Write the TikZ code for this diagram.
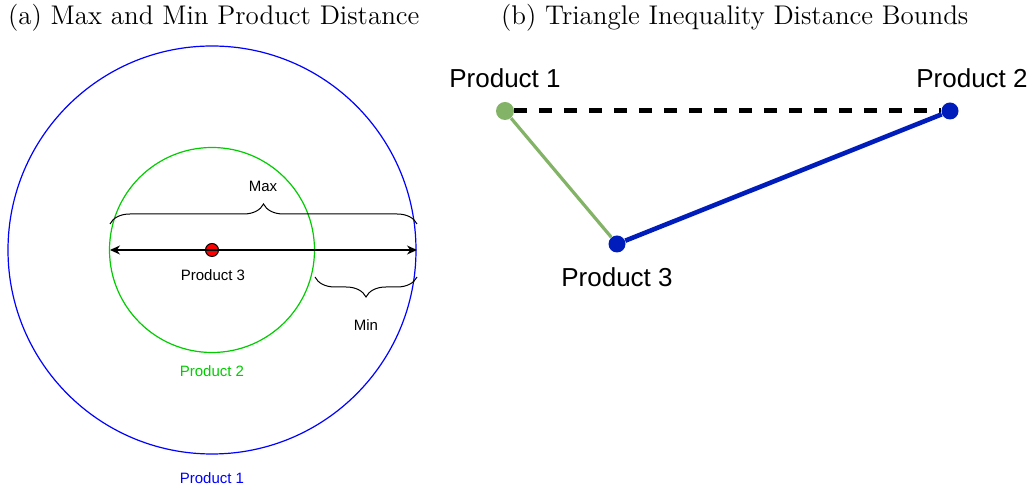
\documentclass[tikz,border=0pt]{standalone}
\usepackage{fontspec}
\newfontfamily\arialfont{Liberation Sans}
\usetikzlibrary{arrows.meta,decorations.pathreplacing}

\definecolor{drawblue}{HTML}{001DBC}
\definecolor{drawgreen}{HTML}{82B366}
\definecolor{ringgreen}{HTML}{00CC00}

\tikzset{
  smalllabel/.style={font=\arialfont\fontsize{7.5}{9}\selectfont},
  biglabel/.style={font=\arialfont\fontsize{13}{15}\selectfont},
  subtitle/.style={anchor=west,font=\fontsize{13.5}{16}\selectfont},
  dot/.style={circle,inner sep=0pt,minimum size=8.5pt},
  dimarrow/.style={-{Stealth[length=5pt,width=4.5pt]},line width=0.6pt},
  bracket/.style={decorate,decoration={brace,amplitude=5pt},line width=0.5pt}
}

\begin{document}
\begin{tikzpicture}[x=0.5pt,y=-0.5pt]
\useasboundingbox (0,0) rectangle (1035,490);

% titles
\node[subtitle] (tita) at (1,18) {(a) Max and Min Product Distance};
\node[subtitle] (titb) at (494,18) {(b) Triangle Inequality Distance Bounds};

% (a) rings round product 3
\node[dot,minimum size=6.5pt,draw,fill=red,line width=0.5pt] (cen) at (212,250) {};
\draw[blue,line width=0.6pt] (cen) circle (204);
\draw[ringgreen,line width=0.6pt] (cen) circle (102.5);
\node[smalllabel] (lab3) at (213,275) {Product 3};
\node[smalllabel,text=ringgreen] (lab2) at (212,371) {Product 2};
\node[smalllabel,text=blue] (lab1) at (212,478) {Product 1};

\coordinate (gl) at (110,250);
\coordinate (gr) at (315,250);
\coordinate (br) at (417,250);
\draw[dimarrow,{Stealth[length=5pt,width=4.5pt]}-] (gl) -- (gr);
\draw[dimarrow] (gr) -- (br);

\coordinate (maxl) at (110,224);
\coordinate (maxr) at (417,224);
\draw[bracket,decoration={amplitude=10pt}] (maxl) -- (maxr);
\node[smalllabel] (maxlab) at (263,186) {Max};
\coordinate (minl) at (315,277);
\coordinate (minr) at (417,277);
\draw[bracket,decoration={mirror,amplitude=10pt}] (minl) -- (minr);
\node[smalllabel] (minlab) at (366,325) {Min};

% (b) triangle
\node[dot,minimum size=9pt,fill=drawgreen] (p1) at (505,111) {};
\node[dot,fill=drawblue] (p2) at (950,111) {};
\node[dot,fill=drawblue] (p3) at (617,244) {};
\node[biglabel] (n1) at (505,78) {Product 1};
\node[biglabel] (n2) at (972,78) {Product 2};
\node[biglabel] (n3) at (617,277) {Product 3};

\draw[line width=2.5pt,dash pattern=on 6.5pt off 6pt] (p1) -- (p2);
\draw[drawgreen,line width=1.6pt] (p1) -- (p3);
\draw[drawblue,line width=2.3pt] (p3) -- (p2);
\end{tikzpicture}
\end{document}
